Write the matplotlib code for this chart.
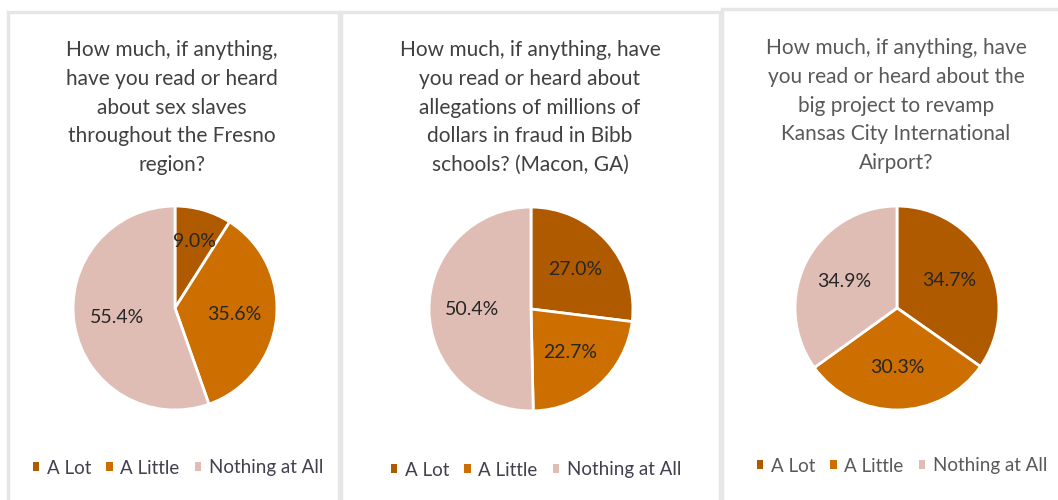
import numpy as np
import matplotlib.pyplot as plt
from matplotlib.patches import Rectangle, Patch

labels = ['A Lot', 'A Little', 'Nothing at All']
colors = ['#b05a00', '#cc6e00', '#e0bdb4']

titles = [
    'How much, if anything,\nhave you read or heard\nabout sex slaves\nthroughout the Fresno\nregion?',
    'How much, if anything, have\nyou read or heard about\nallegations of millions of\ndollars in fraud in Bibb\nschools? (Macon, GA)',
    'How much, if anything, have\nyou read or heard about the\nbig project to revamp\nKansas City International\nAirport?',
]
fresno = [9.0, 35.6, 55.4]
macon = [27.0, 22.7, 50.4]
kansas = [34.7, 30.3, 34.9]
series = [fresno, macon, kansas]

plt.rcParams['font.family'] = ['Lato', 'DejaVu Sans']

W, H = 1058, 500
fig = plt.figure(figsize=(W / 100, H / 100), dpi=100)

# panel frames (left, top, right) in pixels
frames = [(8, 12, 339), (341, 12, 720), (722, 9, 1070)]
for x0, y0, x1 in frames:
    fig.patches.append(Rectangle((x0 / W, -0.1), (x1 - x0) / W, (H - y0) / H + 0.1,
                                 transform=fig.transFigure, fill=False,
                                 edgecolor='#e6e6e6', linewidth=2.5))

# pie centres / title positions / legend positions in pixels
centres = [(175, 308), (531, 309), (897, 308)]
radius = 104
title_y = [40, 40, 38]
title_x = [172, 530, 896]
title_col = ['#404040', '#404040', '#595959']
legend_col = ['#40404f', '#40404f', '#595959']
legend_pos = [(178, 468), (536, 470), (902, 466)]

for i, vals in enumerate(series):
    cx, cy = centres[i]
    ax = fig.add_axes([(cx - radius) / W, (H - cy - radius) / H, 2 * radius / W, 2 * radius / H])
    wedges, _ = ax.pie(vals, colors=colors, startangle=90, counterclock=False,
                       wedgeprops=dict(edgecolor='white', linewidth=2))
    ax.set_xlim(-1.02, 1.02)
    ax.set_ylim(-1.02, 1.02)
    ax.axis('off')
    for w, v in zip(wedges, vals):
        ang = np.deg2rad((w.theta1 + w.theta2) / 2)
        r = 0.68 if v < 10 else 0.58
        ax.text(r * np.cos(ang), r * np.sin(ang), f'{v:.1f}%', ha='center', va='center',
                fontsize=14, color='#262626')

    fig.text(title_x[i] / W, 1 - title_y[i] / H, titles[i], ha='center', va='top',
             fontsize=15, color=title_col[i], linespacing=1.55)

    handles = [Patch(facecolor=c, edgecolor='none') for c in colors]
    lx, ly = legend_pos[i]
    fig.legend(handles, labels, loc='center', bbox_to_anchor=(lx / W, 1 - ly / H),
               ncol=3, frameon=False, fontsize=13.5, labelcolor=legend_col[i],
               handlelength=0.35, handleheight=0.35, handletextpad=0.4,
               columnspacing=0.8)

fig.savefig('out.png', dpi=100, facecolor='white')
